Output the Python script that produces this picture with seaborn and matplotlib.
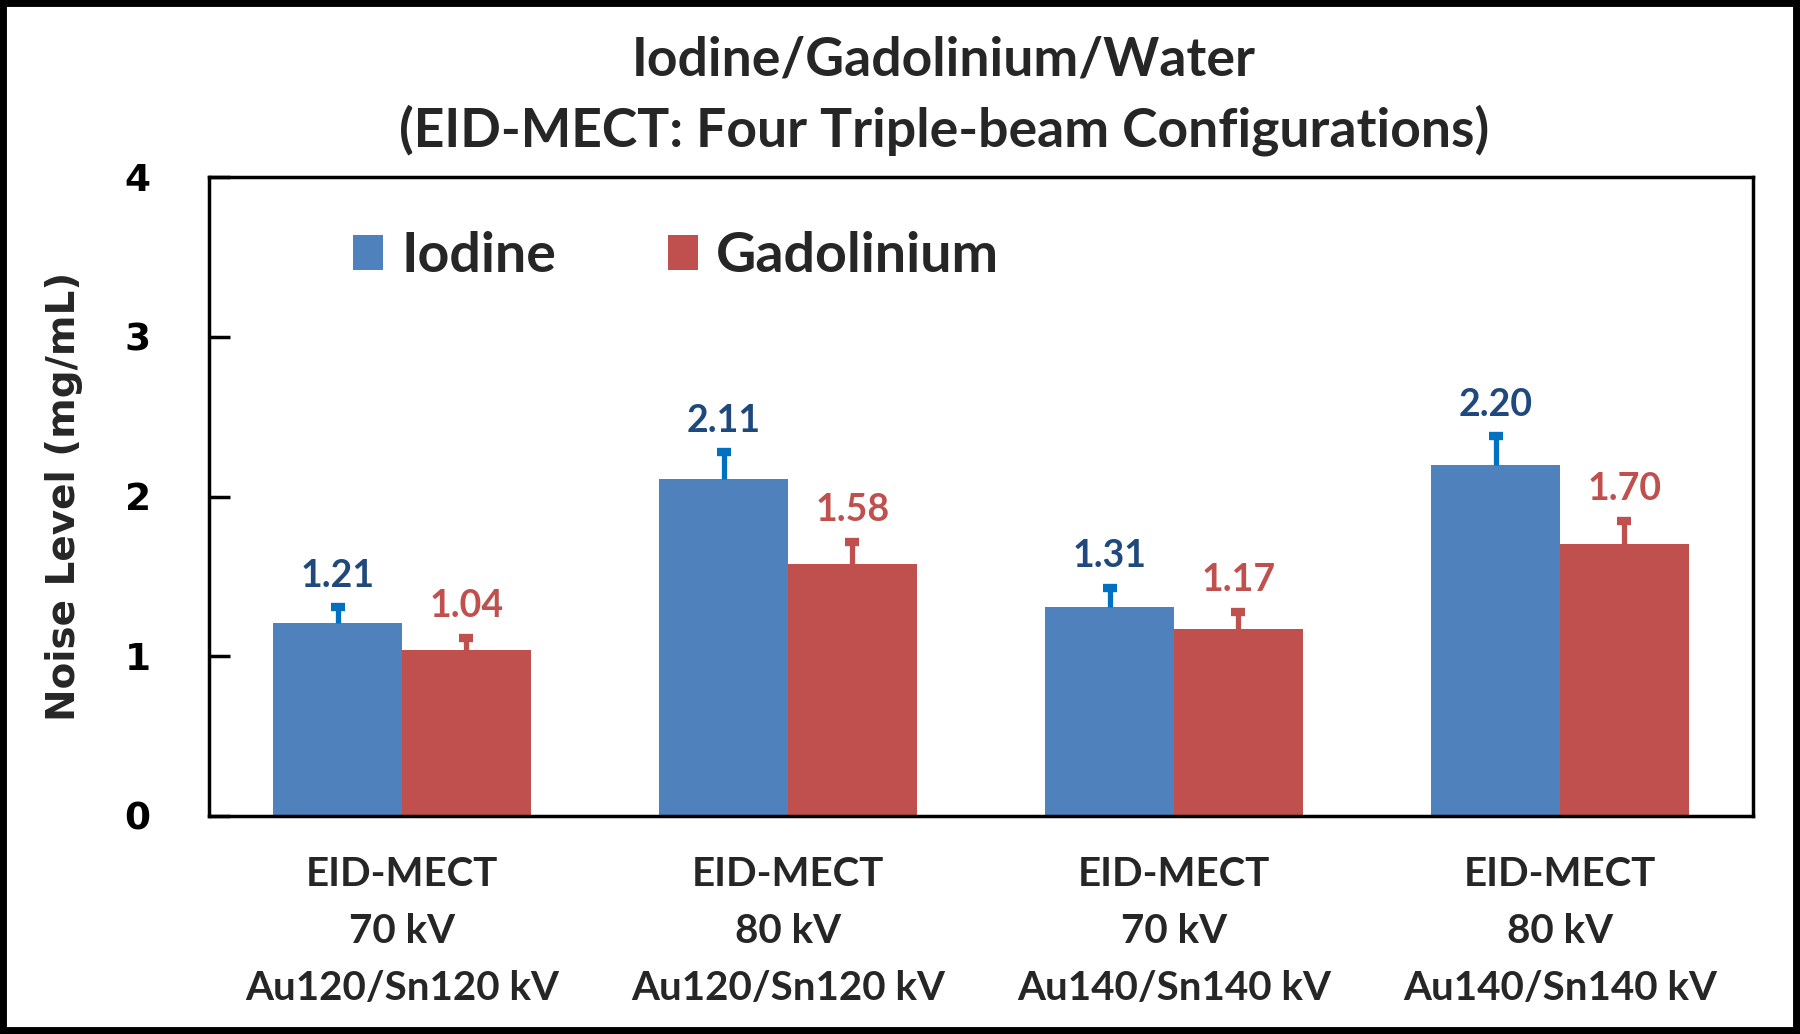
import matplotlib
matplotlib.use("Agg")
import matplotlib.pyplot as plt
import seaborn as sns
import pandas as pd
import numpy as np
from matplotlib.patches import Rectangle, Patch

categories = ["EID-MECT\n70 kV\nAu120/Sn120 kV",
              "EID-MECT\n80 kV\nAu120/Sn120 kV",
              "EID-MECT\n70 kV\nAu140/Sn140 kV",
              "EID-MECT\n80 kV\nAu140/Sn140 kV"]
series = ["Iodine", "Gadolinium"]
iodine = [1.21, 2.11, 1.31, 2.20]
gadolinium = [1.04, 1.58, 1.17, 1.70]
iodine_err = [0.11, 0.18, 0.13, 0.19]
gadolinium_err = [0.09, 0.15, 0.12, 0.16]
yticks = [0, 1, 2, 3, 4]
title_lines = ["Iodine/Gadolinium/Water", "(EID-MECT: Four Triple-beam Configurations)"]
ylabel = "Noise Level (mg/mL)"

bar_colors = ["#4F81BD", "#C0504D"]
err_colors = ["#0070C0", "#C0504D"]
label_colors = ["#1F497D", "#C0504D"]

sns.set_theme(style="white")
plt.rcParams["font.family"] = ["Lato", "DejaVu Sans"]
plt.rcParams["font.weight"] = "bold"

df = pd.DataFrame({
    "cat": categories * 2,
    "series": [series[0]] * 4 + [series[1]] * 4,
    "value": iodine + gadolinium,
})

fig = plt.figure(figsize=(18, 10.34), dpi=100)
ax = fig.add_axes([209/1800, 1 - 816/1034, (1753-209)/1800, (816-177)/1034])

sns.barplot(data=df, x="cat", y="value", hue="series", order=categories,
            hue_order=series, palette=bar_colors, width=0.667, saturation=1,
            errorbar=None, ax=ax, legend=False, linewidth=0)

bar_conts = list(ax.containers)
vals = [iodine, gadolinium]
errs = [iodine_err, gadolinium_err]
for i, cont in enumerate(bar_conts):
    xs = np.array([p.get_x() + p.get_width() / 2 for p in cont.patches])
    ys = np.array(vals[i])
    e = np.array(errs[i])
    ax.errorbar(xs, ys, yerr=[np.zeros(len(e)), e], fmt="none",
                ecolor=err_colors[i], elinewidth=3.8, capsize=0, zorder=5)
    ax.plot(xs, ys + e - 0.013, linestyle="none", marker="_", markersize=10,
            markeredgewidth=6, color=err_colors[i], zorder=6)
    for x, y, ee in zip(xs, ys, e):
        ax.annotate(f"{y:.2f}", (x, y + ee), xytext=(0, 9), textcoords="offset points",
                    ha="center", va="bottom", fontsize=27, fontweight="bold",
                    color=label_colors[i])

ax.set_ylim(0, 4)
ax.set_yticks(yticks)
ax.set_yticklabels([str(t) for t in yticks], fontfamily="DejaVu Sans",
                   fontweight="bold", fontsize=27)
ax.set_xlim(-0.5, 3.5)
ax.set_xlabel("")
ax.set_ylabel(ylabel, fontfamily="DejaVu Sans", fontweight="bold", fontsize=28,
              labelpad=30)
ax.tick_params(axis="y", direction="in", length=15, width=2.5, pad=42, left=True, colors="black")
ax.tick_params(axis="x", length=0, pad=29, labelsize=29)
for lab in ax.get_xticklabels():
    lab.set_fontweight("bold")
    lab.set_linespacing(1.66)
for sp in ax.spines.values():
    sp.set_visible(True)
    sp.set_color("black")
    sp.set_linewidth(2.5)

handles = [Patch(facecolor=c, edgecolor="none") for c in bar_colors]
ax.legend(handles, series, loc="upper left", bbox_to_anchor=(0.061, 0.994), ncol=2,
          frameon=False, handlelength=0.54, handleheight=0.6,
          handletextpad=0.33, columnspacing=2.0, prop={"weight": "bold", "size": 40})

fig.text(944/1800, 1 - 60/1034, title_lines[0], ha="center", va="center",
         fontsize=38.5, fontweight="bold")
fig.text(944/1800, 1 - 130/1034, title_lines[1],
         ha="center", va="center", fontsize=38.5, fontweight="bold")

fig.patches.append(Rectangle((0, 0), 1, 1, transform=fig.transFigure, fill=False,
                             edgecolor="black", linewidth=10, zorder=10))

fig.savefig("out.png", dpi=100)
